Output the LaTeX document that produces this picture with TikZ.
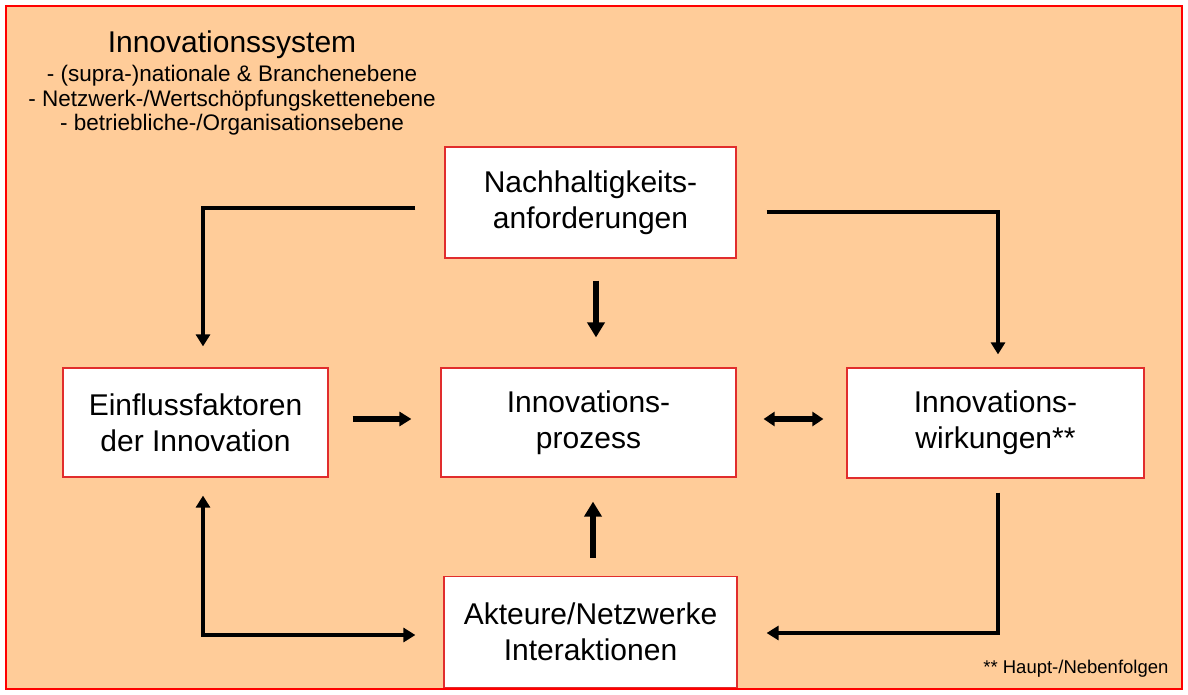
\documentclass[tikz,border=0pt]{standalone}
\usepackage{fontspec}
\setmainfont{Liberation Sans}
\usetikzlibrary{arrows.meta}
\definecolor{bgorange}{RGB}{255,204,153}
\definecolor{framered}{RGB}{255,0,0}
\definecolor{boxred}{RGB}{225,45,45}
\begin{document}
\begin{tikzpicture}[x=1pt,y=-1pt,
  box/.style={draw=boxred,line width=1.2pt,fill=white,align=center,inner sep=0pt,
    font=\fontsize{30}{36}\selectfont},
  toptext/.style={anchor=base,font=\fontsize{22.5}{25}\selectfont},
  thinline/.style={line width=3.2pt},
  elbow/.style={line width=4.6pt,-{Triangle[length=12pt,width=14pt]}},
  elbowboth/.style={line width=4.6pt,{Triangle[length=12pt,width=14pt]}-{Triangle[length=12pt,width=14pt]}},
  shortarrow/.style={line width=5.5pt,-{Triangle[length=12pt,width=14pt]}},
  shortboth/.style={line width=5.2pt,{Triangle[length=11pt,width=14pt]}-{Triangle[length=11pt,width=14pt]}},
  bigarrow/.style={line width=6.5pt,-{Triangle[length=15pt,width=17pt]}}
]
\useasboundingbox (0,0) rectangle (1188,695);
\fill[white] (0,0) rectangle (1188,695);
% outer frame
\draw[framered,line width=2pt,fill=bgorange] (6,6) rectangle (1182,689);

% heading and system levels
\node[anchor=base,font=\fontsize{30}{36}\selectfont] (sys) at (232,53) {Innovationssystem};
\node[toptext] (lev1) at (232,82) {- (supra-)nationale \& Branchenebene};
\node[toptext] (lev2) at (232,106.5) {- Netzwerk-/Wertschöpfungskettenebene};
\node[toptext] (lev3) at (232,131) {- betriebliche-/Organisationsebene};

% boxes
\node[box,minimum width=291pt,minimum height=111pt] (N) at (590.5,202.5) {Nachhaltigkeits-\\anforderungen};
\node[box,minimum width=265pt,minimum height=109pt] (E) at (195.5,422.5) {Einflussfaktoren\\der Innovation};
\node[box,minimum width=295pt,minimum height=109pt] (P) at (588.5,422.5) {Innovations-\\prozess};
\node[box,minimum width=297pt,minimum height=110pt] (W) at (995.5,423) {Innovations-\\wirkungen**};
\node[box,minimum width=293pt,minimum height=111pt] (A) at (590.5,632) {Akteure/Netzwerke\\Interaktionen};

% footnote
\node[anchor=base east,font=\fontsize{18.5}{22}\selectfont] (note) at (1172,673) {** Haupt-/Nebenfolgen};

% Nachhaltigkeitsanforderungen -> Einflussfaktoren
\coordinate (tlStart) at ([xshift=-29pt,yshift=-5.5pt]N.west);
\coordinate (tlEnd) at ([xshift=7.5pt,yshift=21pt]E.north);
\coordinate (tlCorner) at (tlEnd |- tlStart);
\draw[thinline] (tlStart) -- ([xshift=-2.3pt]tlCorner);
\draw[elbow] ([yshift=1.6pt]tlCorner) -- (tlEnd);

% Nachhaltigkeitsanforderungen -> Innovationswirkungen
\coordinate (trStart) at ([xshift=30pt,yshift=-9.5pt]N.east);
\coordinate (trEnd) at ([xshift=2.5pt,yshift=13pt]W.north);
\coordinate (trCorner) at (trEnd |- trStart);
\draw[thinline] (trStart) -- ([xshift=2.3pt]trCorner);
\draw[elbow] ([yshift=1.6pt]trCorner) -- (trEnd);

% Innovationswirkungen -> Akteure/Netzwerke
\draw[elbow] ([xshift=2.5pt,yshift=-14pt]W.south) |- ([xshift=29pt,yshift=-1pt]A.east);

% Einflussfaktoren <-> Akteure/Netzwerke
\draw[elbowboth] ([xshift=7.5pt,yshift=-18pt]E.south) |- ([xshift=-28pt,yshift=-3pt]A.west);

% arrows around the process box
\draw[shortarrow] ([xshift=24pt,yshift=3.5pt]E.east) -- ([xshift=-29pt,yshift=3.5pt]P.west);
\draw[shortboth] ([xshift=27pt,yshift=3.5pt]P.east) -- ([xshift=-23pt,yshift=4pt]W.west);
\draw[bigarrow] ([xshift=5.5pt,yshift=-22pt]N.south) -- ([xshift=7.5pt,yshift=30pt]P.north);
\draw[bigarrow] ([xshift=2.5pt,yshift=18pt]A.north) -- ([xshift=4.5pt,yshift=-24pt]P.south);
\end{tikzpicture}
\end{document}
